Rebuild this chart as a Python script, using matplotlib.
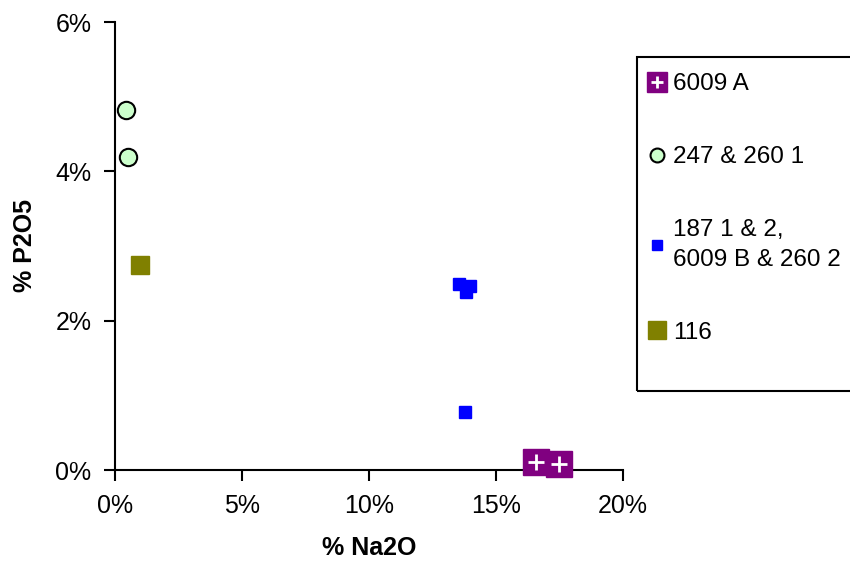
import matplotlib.pyplot as plt
from matplotlib.lines import Line2D
from matplotlib.patches import Rectangle
from matplotlib.ticker import FuncFormatter

plt.rcParams['font.family'] = ['Liberation Sans', 'DejaVu Sans']

# Values in percent
a6009_x = [16.57, 17.48]
a6009_y = [0.11, 0.08]

s247_x = [0.43, 0.51]
s247_y = [4.82, 4.19]

s187_x = [13.54, 13.98, 13.82, 13.78]
s187_y = [2.49, 2.46, 2.38, 0.78]

s116_x = [0.98]
s116_y = [2.75]

labels = ["6009 A", "247 & 260 1", "187 1 & 2,\n6009 B & 260 2", "116"]

purple = "#800080"
green = "#CCFFCC"
blue = "#0000FF"
olive = "#808000"


def main():
    fig = plt.figure(figsize=(8.5, 5.72), dpi=100)
    ax = fig.add_axes([115 / 850, 1 - 470 / 572, 508 / 850, 448 / 572])

    # series
    ax.plot(s187_x, s187_y, ls="none", marker="s", ms=8.5, color=blue, mec=blue, clip_on=False, zorder=3)
    ax.plot(s116_x, s116_y, ls="none", marker="s", ms=13.5, color=olive, mec=olive, clip_on=False, zorder=3)
    ax.plot(s247_x, s247_y, ls="none", marker="o", ms=12.5, mfc=green, mec="black", mew=1.5, clip_on=False, zorder=3)
    ax.plot(a6009_x, a6009_y, ls="none", marker="s", ms=18.5, color=purple, mec=purple, clip_on=False, zorder=4)
    ax.plot(a6009_x, a6009_y, ls="none", marker="+", ms=11, mew=2, color="white", clip_on=False, zorder=5)

    ax.set_xlim(0, 20)
    ax.set_ylim(0, 6)
    ax.set_xticks([0, 5, 10, 15, 20])
    ax.set_yticks([0, 2, 4, 6])
    pct = FuncFormatter(lambda v, p: "%d%%" % v)
    ax.xaxis.set_major_formatter(pct)
    ax.yaxis.set_major_formatter(pct)

    for side in ["top", "right"]:
        ax.spines[side].set_visible(False)
    for side in ["left", "bottom"]:
        ax.spines[side].set_linewidth(1.5)
    ax.tick_params(direction="out", length=8, width=1.5, labelsize=18, pad=9)

    ax.set_xlabel("% Na2O", fontsize=18, fontweight="bold", labelpad=13)
    ax.set_ylabel("% P2O5", fontsize=18, fontweight="bold", labelpad=13)

    # legend
    h_a = (Line2D([], [], ls="none", marker="s", ms=15, color=purple),
           Line2D([], [], ls="none", marker="+", ms=9, mew=2, color="white"))
    h_b = Line2D([], [], ls="none", marker="o", ms=10, mfc=green, mec="black", mew=1.5)
    h_c = Line2D([], [], ls="none", marker="s", ms=7, color=blue)
    h_d = Line2D([], [], ls="none", marker="s", ms=13.5, color=olive)
    leg = fig.legend([h_a, h_b, h_c, h_d], labels, loc="upper left",
                     bbox_to_anchor=(645 / 850, 1 - 73 / 572), frameon=False,
                     borderpad=0, borderaxespad=0, handlelength=1.0, handletextpad=0.15,
                     labelspacing=2.1, fontsize=17.5)
    for t in leg.get_texts():
        t.set_linespacing(1.45)
    fig.patches.append(Rectangle((637 / 850, 1 - 391 / 572), 230 / 850, 334 / 572,
                                 transform=fig.transFigure, fill=False,
                                 edgecolor="black", linewidth=1.5))

    fig.savefig("out.png", dpi=100)


if __name__ == '__main__':
    main()
